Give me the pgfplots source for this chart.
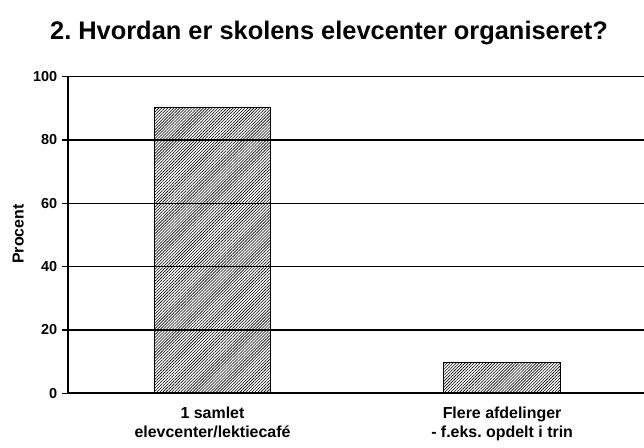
\documentclass[border=0pt]{standalone}
\usepackage{pgfplots}
\pgfplotsset{compat=1.18}
\usetikzlibrary{patterns.meta}
\usepackage{fontspec}
\setmainfont{Liberation Sans}
\frenchspacing
\begin{document}
\begin{tikzpicture}
\begin{axis}[
  at={(67.7bp,54.7bp)}, anchor=south west,
  scale only axis,
  width=579.2bp, height=316.6bp,
  xmin=-0.5, xmax=1.5,
  ymin=0, ymax=100,
  ytick={0,20,40,60,80,100},
  xtick={0,1},
  xticklabels={{1 samlet\\elevcenter/lektiecafé},{Flere afdelinger\\- f.eks. opdelt i trin}},
  x tick style={draw=none},
  extra x ticks={0.5},
  extra x tick labels={},
  extra x tick style={tick style={draw=black, line width=1bp}, major tick length=6bp},
  axis x line*=bottom,
  axis y line*=left,
  axis line style={-, line width=1.6bp, black},
  tick align=outside,
  major tick length=6bp,
  y tick style={black, line width=1.2bp},
  ymajorgrids,
  grid style={black, line width=1.5bp},
  /pgf/number format/assume math mode=true,
  yticklabel style={font=\fontsize{14.5}{17}\selectfont\bfseries, xshift=-1bp},
  xticklabel style={font=\fontsize{16}{19}\selectfont\bfseries, align=center, yshift=-4bp},
]
\addplot[ybar, bar width=116.7bp, bar shift=0pt, draw=black, line width=0.8bp,
  pattern={Lines[angle=45, distance=2.1bp, line width=0.6bp]}, pattern color=black]
  coordinates {(0,90.3) (1,9.7)};
\end{axis}
\node[font=\fontsize{16}{19}\selectfont\bfseries, rotate=90, anchor=center] at (18.3bp,214bp) {Procent};
\node[font=\fontsize{25.5}{30}\selectfont\bfseries, anchor=base] at (329bp,408bp) {2. Hvordan er skolens elevcenter organiseret?};
\pgfresetboundingbox
\path[use as bounding box] (0,0) rectangle (644bp,448bp);
\end{tikzpicture}
\end{document}
